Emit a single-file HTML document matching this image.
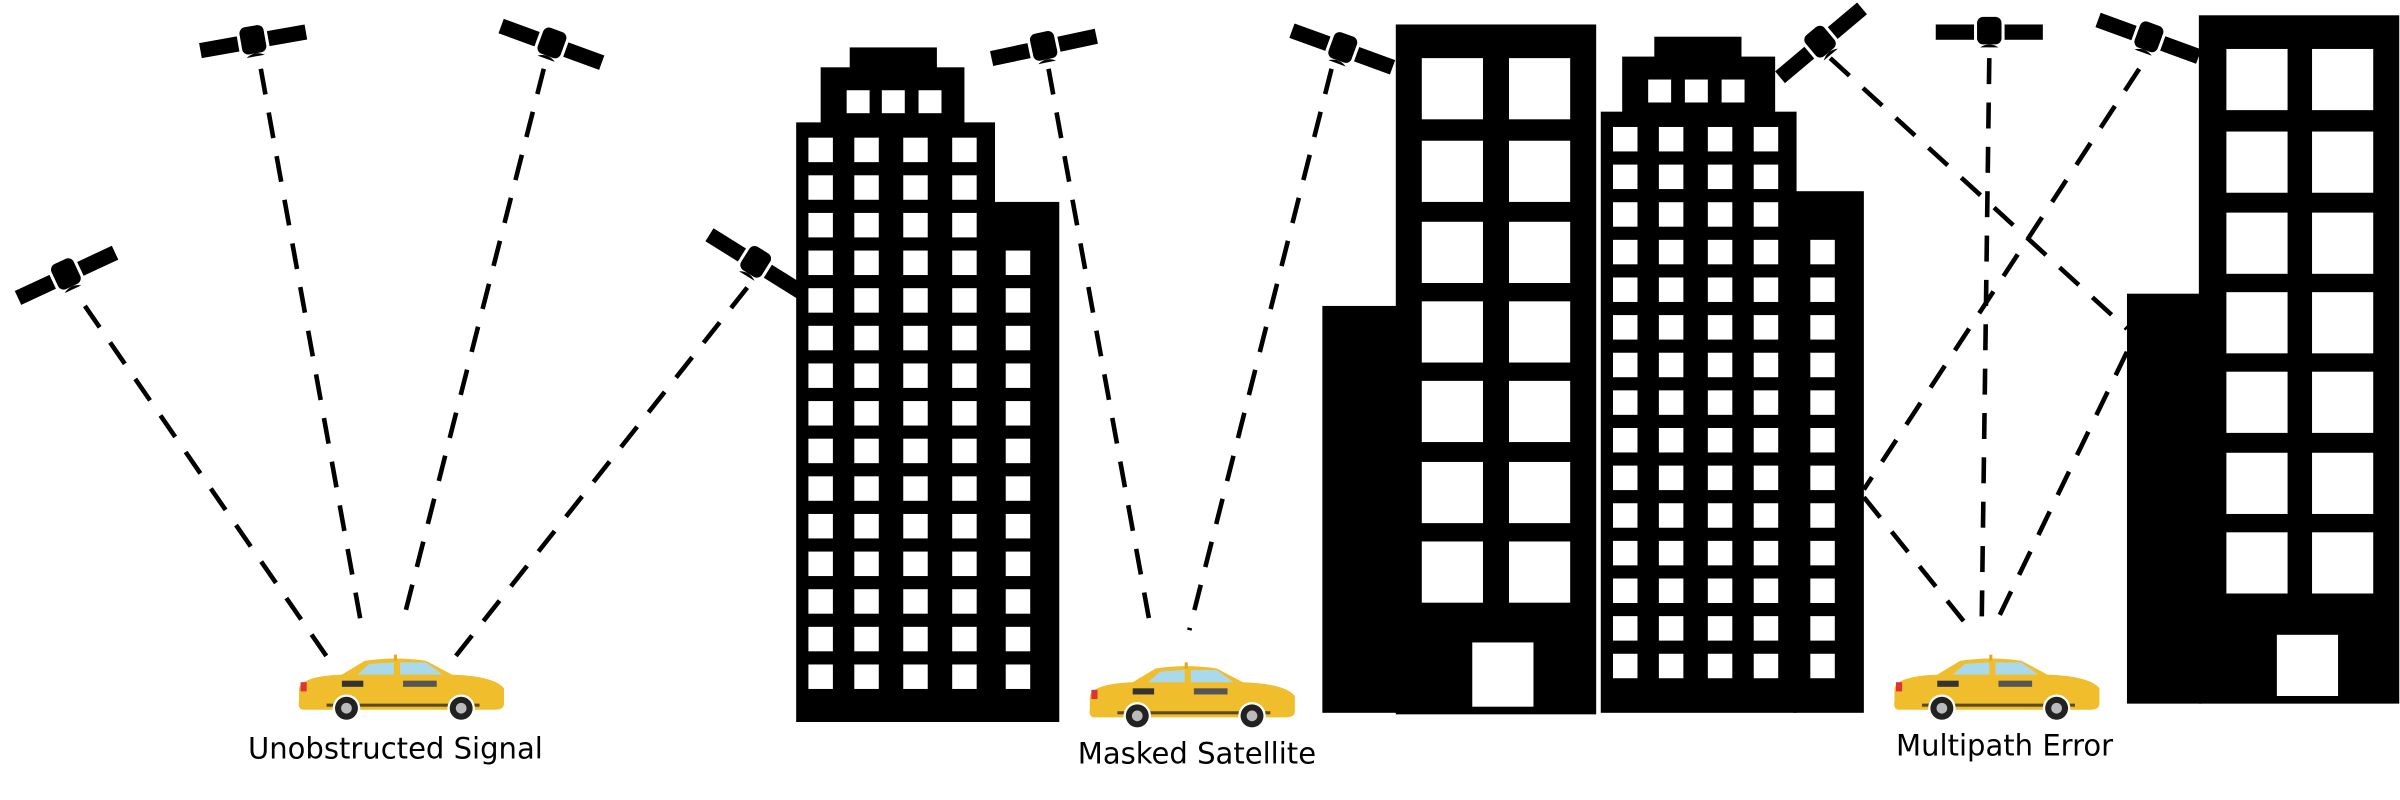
<!DOCTYPE html>
<html><head><meta charset="utf-8"><style>
html,body{margin:0;padding:0;background:#fff;width:2400px;height:800px;overflow:hidden}
svg{display:block}
text{font-family:"DejaVu Sans","Liberation Sans",sans-serif}
</style></head><body>
<svg id="s" width="2400" height="800" viewBox="0 0 1568 523">
<defs>
<g id="sat">
<rect x="-35" y="-5" width="25" height="10" fill="#000"/>
<rect x="10" y="-5" width="25" height="10" fill="#000"/>
<rect x="-8" y="-10" width="16" height="18" rx="4" fill="#000"/>
<path d="M-6,10 Q0,6 6,10 Z" fill="#000"/>
</g>
<g id="car">
<path d="M2,22 Q4,14 30,13 L45,4 Q65,1 85,4 L102,13 Q130,14 136,22 L136,32 Q136,36 130,36 L5,36 Q1,36 2,30 Z" fill="#f0bd2c"/>
<polygon points="48,6 64,5 64,13 40,13" fill="#a9d9ea"/>
<polygon points="68,5 85,5 96,13 68,13" fill="#a9d9ea"/>
<rect x="64" y="0" width="2" height="4" fill="#e0a820"/>
<rect x="30" y="17" width="14" height="4" fill="#333"/>
<rect x="70" y="17" width="22" height="4" fill="#555"/>
<rect x="20" y="32" width="100" height="2" fill="#5a4a20"/>
<rect x="3" y="18" width="4" height="6" fill="#d33"/>
<circle cx="33" cy="35" r="9" fill="#fff"/>
<circle cx="33" cy="35" r="7.5" fill="#222"/>
<circle cx="33" cy="35" r="3.5" fill="#bbb"/>
<circle cx="108" cy="35" r="9" fill="#fff"/>
<circle cx="108" cy="35" r="7.5" fill="#222"/>
<circle cx="108" cy="35" r="3.5" fill="#bbb"/>
</g>
</defs>
<g id="lines" fill="none" stroke="#000" stroke-width="3" stroke-dasharray="17 12">
<line x1="55" y1="200" x2="215" y2="432"/>
<line x1="170" y1="45" x2="236" y2="410"/>
<line x1="355" y1="45" x2="262" y2="410"/>
<line x1="488" y1="188" x2="295" y2="432"/>
<line x1="685" y1="45" x2="752" y2="412"/>
<line x1="870" y1="45" x2="777" y2="412"/>
<line x1="1196" y1="38" x2="1390" y2="215"/>
<line x1="1300" y1="38" x2="1295" y2="410"/>
<line x1="1398" y1="45" x2="1218" y2="320"/>
<line x1="1218" y1="325" x2="1288" y2="412"/>
<line x1="1390" y1="230" x2="1302" y2="412"/>
</g>
<g id="sats">
<use href="#sat" transform="translate(43,180) rotate(-25)"/>
<use href="#sat" transform="translate(165,27) rotate(-10)"/>
<use href="#sat" transform="translate(360,29) rotate(20)"/>
<use href="#sat" transform="translate(493,172) rotate(32)"/>
<use href="#sat" transform="translate(682,31) rotate(-12)"/>
<use href="#sat" transform="translate(877,32) rotate(20)"/>
<use href="#sat" transform="translate(1190,28) rotate(-40)"/>
<use href="#sat" transform="translate(1300,21) rotate(0)"/>
<use href="#sat" transform="translate(1404,25) rotate(20)"/>
</g>
<g id="bldA">
<rect x="555" y="31" width="57" height="14" fill="#000"/>
<rect x="536" y="44" width="94" height="38" fill="#000"/>
<rect x="520" y="80" width="130" height="392" fill="#000"/>
<rect x="648" y="132" width="44" height="340" fill="#000"/>
</g>
<g id="bldB">
<rect x="864" y="200" width="50" height="266" fill="#000"/>
<rect x="912" y="16" width="131" height="451" fill="#000"/>
<rect x="962" y="420" width="40" height="42" fill="#fff"/>
</g>
<g id="bldC">
<rect x="1081" y="24" width="57" height="14" fill="#000"/>
<rect x="1060" y="37" width="100" height="38" fill="#000"/>
<rect x="1046" y="73" width="128" height="393" fill="#000"/>
<rect x="1172" y="125" width="46" height="341" fill="#000"/>
</g>
<g id="bldD">
<rect x="1390" y="192" width="49" height="268" fill="#000"/>
<rect x="1437" y="10" width="131" height="450" fill="#000"/>
<rect x="1488" y="415" width="40" height="40" fill="#fff"/>
</g>
<g id="wins" fill="#fff"></g>
<g>
<use href="#car" transform="translate(193,428)"/>
<use href="#car" transform="translate(710,433)"/>
<use href="#car" transform="translate(1236,428)"/>
</g>
<text x="258" y="496" font-size="19" text-anchor="middle">Unobstructed Signal</text>
<text x="782" y="499" font-size="19" text-anchor="middle">Masked Satellite</text>
<text x="1310" y="494" font-size="19" text-anchor="middle">Multipath Error</text>
</svg>
<script>
var g=document.getElementById('wins');
function win(x,y,w,h){var r=document.createElementNS('http://www.w3.org/2000/svg','rect');
r.setAttribute('x',x);r.setAttribute('y',y);r.setAttribute('width',w);r.setAttribute('height',h);


g.appendChild(r);}
[553,576,600].forEach(function(x){win(x,59,15,15);});
[1077,1101,1125].forEach(function(x){win(x,52,15,15);});
for(var i=0;i<15;i++){var y=90+i*24.6;
 [528,558,590,622].forEach(function(x){win(x,y,16,16);});
 if(y>140)win(657,y,16,16);
 [1054,1084,1116,1146].forEach(function(x){win(x,y-7,16,16);});
 if(y-7>135)win(1183,y-7,16,16);}
[38,92,145,197,249,302,354].forEach(function(y){win(929,y,40,40);win(986,y,40,40);win(1455,y-6,40,40);win(1511,y-6,40,40);});
</script>
</body></html>
